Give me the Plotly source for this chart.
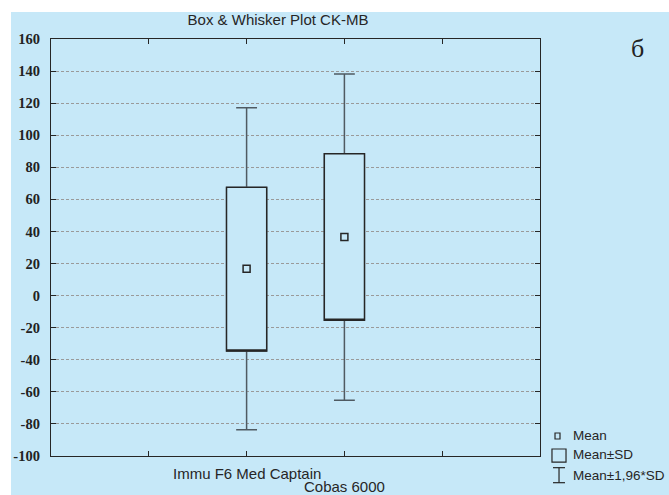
import plotly.graph_objects as go

# ---- data ----
groups = ["Immu F6 Med Captain", "Cobas 6000"]
group_pos = [2, 3]
means = [16.8, 36.6]
sd_low = [-34.5, -15.4]      # Mean - SD
sd_high = [67.5, 88.5]       # Mean + SD
ci_low = [-83.6, -65.2]      # Mean - 1.96*SD
ci_high = [117.2, 138.2]     # Mean + 1.96*SD
y_ticks = list(range(-100, 161, 20))
y_labels = [str(v).replace("\u2212", "-") for v in y_ticks]
x_ticks = [1, 2, 3, 4]

BG = "#c6e8f8"
DARK = "#262626"
GREY = "#4f5a62"
SANS = "Liberation Sans"
SERIF = "Liberation Serif"

fig = go.Figure()

for i, g in enumerate(groups):
    # whiskers (Mean ± 1.96*SD)
    fig.add_trace(go.Box(
        x=[group_pos[i]],
        q1=[sd_low[i]], median=[sd_low[i]], q3=[sd_high[i]],
        lowerfence=[ci_low[i]], upperfence=[ci_high[i]],
        width=0.41, whiskerwidth=0.52,
        fillcolor=BG, line=dict(color=GREY, width=1.5),
        boxpoints=False, showlegend=False, hoverinfo="skip", name=g,
    ))
    # box (Mean ± SD)
    fig.add_trace(go.Box(
        x=[group_pos[i]],
        q1=[sd_low[i]], median=[sd_low[i]], q3=[sd_high[i]],
        lowerfence=[sd_low[i]], upperfence=[sd_high[i]],
        width=0.41, whiskerwidth=0.0,
        fillcolor=BG, line=dict(color=DARK, width=1.4),
        boxpoints=False, showlegend=False, hoverinfo="skip", name=g,
    ))

fig.add_trace(go.Scatter(
    x=group_pos, y=means, mode="markers",
    marker=dict(symbol="square-open", size=7, color=DARK, line=dict(width=1.5, color=DARK)),
    showlegend=False, hoverinfo="skip",
))

# background panel (white strip on top and left as in the reference)
fig.add_shape(type="rect", xref="paper", yref="paper",
              x0=-0.0818, x1=1.3, y0=-0.2, y1=1.0647,
              fillcolor=BG, line_width=0, layer="below")

# x category labels (staggered)
label_y = [-0.041, -0.073]
for i, g in enumerate(groups):
    fig.add_annotation(x=group_pos[i], y=label_y[i], xref="x", yref="paper",
                       text=g, showarrow=False, xanchor="center", yanchor="middle",
                       font=dict(family=SANS, size=15, color=DARK))

# legend (custom)
leg_text = ["Mean", "Mean±SD", "Mean±1,96*SD"]
leg_y = [0.0503, 0.0024, -0.0456]
for t, yy in zip(leg_text, leg_y):
    fig.add_annotation(x=1.0634, y=yy, xref="paper", yref="paper", text=t,
                       showarrow=False, xanchor="left", yanchor="middle",
                       font=dict(family=SANS, size=13.5, color=DARK))
# small square
fig.add_shape(type="rect", xref="paper", yref="paper",
              x0=1.0307, x1=1.0409, y0=0.0408, y1=0.0552,
              line=dict(color=DARK, width=1.2), fillcolor=BG)
# big square
fig.add_shape(type="rect", xref="paper", yref="paper",
              x0=1.0245, x1=1.0532, y0=-0.0149, y1=0.0168,
              line=dict(color=DARK, width=1.2), fillcolor=BG)
# I-beam
fig.add_shape(type="line", xref="paper", yref="paper",
              x0=1.0389, x1=1.0389, y0=-0.0640, y1=-0.0280,
              line=dict(color=DARK, width=1.2))
fig.add_shape(type="line", xref="paper", yref="paper",
              x0=1.0266, x1=1.0511, y0=-0.0280, y1=-0.0280,
              line=dict(color=DARK, width=1.2))
fig.add_shape(type="line", xref="paper", yref="paper",
              x0=1.0266, x1=1.0511, y0=-0.0640, y1=-0.0640,
              line=dict(color=DARK, width=1.2))

# panel letter
fig.add_annotation(x=1.2, y=0.978, xref="paper", yref="paper", text="б",
                   showarrow=False, xanchor="center", yanchor="middle",
                   font=dict(family=SERIF, size=26, color="#222"))

fig.update_layout(
    width=669, height=495,
    margin=dict(l=51, r=129, t=39, b=39),
    paper_bgcolor="white", plot_bgcolor=BG,
    boxmode="overlay",
    title=dict(text="Box & Whisker Plot CK-MB", x=0.4642, xref="paper",
               y=1 - 20 / 495, yref="container", xanchor="center", yanchor="middle",
               font=dict(family=SANS, size=15, color=DARK)),
    xaxis=dict(range=[0, 5], tickvals=x_ticks, ticktext=["", "", "", ""],
               ticks="inside", ticklen=5, tickcolor=DARK, showgrid=False,
               showline=True, linecolor=DARK, linewidth=1.3, mirror="ticks",
               zeroline=False),
    yaxis=dict(range=[-100, 160], tickvals=y_ticks, ticktext=y_labels,
               ticks="inside", ticklen=5, tickcolor=DARK,
               showgrid=True, gridcolor="#9a9a9a", gridwidth=1, griddash="3px,2px",
               showline=True, linecolor=DARK, linewidth=1.3, mirror="ticks",
               zeroline=False, ticklabelstandoff=7,
               tickfont=dict(family=SERIF, size=14.5, color="#222", weight="bold")),
)

fig.write_html("out.html")
